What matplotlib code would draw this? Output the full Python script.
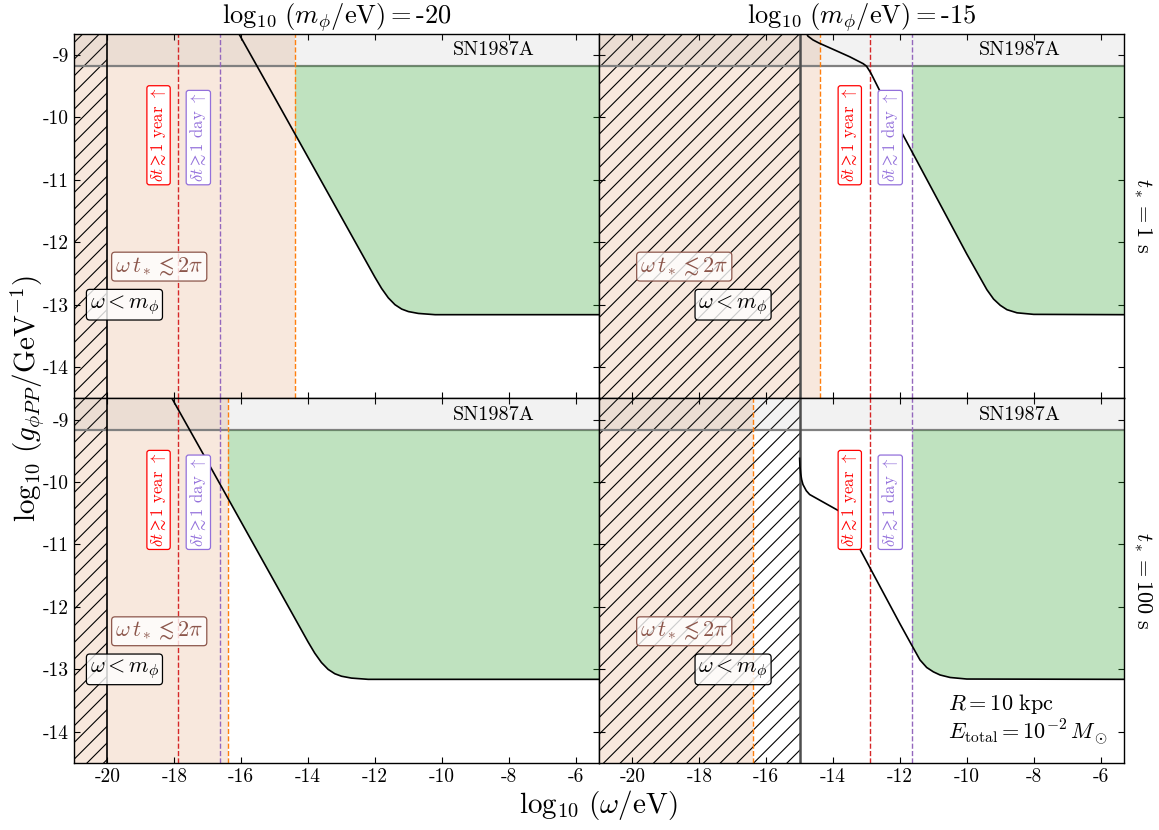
import matplotlib
matplotlib.use('Agg')
import matplotlib.pyplot as plt
from matplotlib.patches import Rectangle

plt.rcParams.update({
    'font.family': 'serif',
    'font.serif': ['cmr10', 'DejaVu Serif'],
    'mathtext.fontset': 'cm',
    'axes.unicode_minus': False,
    'hatch.linewidth': 0.8,
})

# ---------------- data ----------------
XLIM = (-21.0, -5.3)
YLIM = (-14.5, -8.66)
log_m = [-20, -15]                 # columns: log10(m_phi/eV)
t_star_labels = [r'$t_* = 1\ \mathrm{s}$', r'$t_* = 100\ \mathrm{s}$']  # rows
sn1987a = -9.17
orange_x = [-14.39, -16.39]        # omega t* = 2 pi  (per row)
red_x = [-17.88, -12.90]           # delta t >~ 1 year (per column)
purple_x = [-16.62, -11.63]        # delta t >~ 1 day  (per column)
green_start = [[-14.39, -11.63], [-16.39, -11.63]]

# black curves (row, column)
curve_1s_m20_x = [-16.30, -15.00, -14.00, -13.00, -12.00, -11.80, -11.60, -11.40, -11.20, -11.00, -10.70, -10.20, -5.30]
curve_1s_m20_y = [-8.44, -9.68, -10.64, -11.60, -12.56, -12.74, -12.89, -13.00, -13.07, -13.11, -13.14, -13.16, -13.16]
curve_100s_m20_x = [-18.30, -17.00, -16.00, -15.00, -14.00, -13.80, -13.60, -13.40, -13.20, -13.00, -12.70, -12.20, -5.30]
curve_100s_m20_y = [-8.44, -9.68, -10.64, -11.60, -12.56, -12.74, -12.89, -13.00, -13.07, -13.11, -13.14, -13.16, -13.16]
curve_1s_m15_x = [-14.88, -14.83, -14.75, -14.60, -14.42, -14.00, -13.50, -13.10, -13.00, -12.87, -12.56, -12.00,
                  -11.00, -10.00, -9.60, -9.40, -9.20, -9.00, -8.80, -8.50, -8.00, -5.30]
curve_1s_m15_y = [-8.40, -8.62, -8.70, -8.76, -8.81, -8.91, -9.03, -9.14, -9.18, -9.29, -9.62, -10.19,
                  -11.19, -12.19, -12.57, -12.76, -12.91, -13.01, -13.08, -13.13, -13.155, -13.16]
curve_100s_m15_x = [-15.00, -14.99, -14.97, -14.94, -14.90, -14.80, -14.70, -14.40, -14.00, -13.80, -13.60, -13.20,
                    -12.50, -12.00, -11.64, -11.40, -11.20, -11.00, -10.80, -10.50, -10.00, -5.30]
curve_100s_m15_y = [-9.62, -9.75, -9.86, -9.96, -10.04, -10.14, -10.20, -10.29, -10.41, -10.47, -10.67, -11.07,
                    -11.77, -12.27, -12.62, -12.85, -12.97, -13.04, -13.09, -13.13, -13.155, -13.16]
curves = [[(curve_1s_m20_x, curve_1s_m20_y), (curve_1s_m15_x, curve_1s_m15_y)],
          [(curve_100s_m20_x, curve_100s_m20_y), (curve_100s_m15_x, curve_100s_m15_y)]]

# label positions
red_label_x = [-18.47, -13.50]
purple_label_x = [-17.28, -12.29]
omega_m_label_x = [-19.49, -16.99]
xticks = [-20, -18, -16, -14, -12, -10, -8, -6]
yticks = [-14, -13, -12, -11, -10, -9]

# ---------------- figure ----------------
fig, axes = plt.subplots(2, 2, figsize=(11.59, 8.30), dpi=100, sharex=True, sharey=True)
fig.subplots_adjust(left=0.0638, right=0.9698, top=0.9594, bottom=0.0807, wspace=0, hspace=0)

for r in range(2):
    for c in range(2):
        ax = axes[r, c]
        ax.set_xlim(XLIM)
        ax.set_ylim(YLIM)
        # omega t* < 2 pi region
        ax.axvspan(XLIM[0], orange_x[r], facecolor='chocolate', alpha=0.15, lw=0, zorder=0)
        ax.axvline(orange_x[r], color='tab:orange', ls='--', lw=1, zorder=3)
        # omega < m region (hatched)
        edge = 'k' if c == 0 else '0.3'
        ax.axvspan(XLIM[0], log_m[c], facecolor='none', edgecolor='k', hatch='//', lw=0, zorder=1)
        ax.axvline(log_m[c], color=edge, lw=1.2 if c == 0 else 1.8, zorder=3)
        # SN1987A band
        ax.axhspan(sn1987a, YLIM[1], facecolor='gray', alpha=0.1, lw=0, zorder=2)
        ax.axhline(sn1987a, color='gray', lw=1.6, zorder=2)
        ax.text(-8.43, -8.92, 'SN1987A', ha='center', va='center', fontsize=14.5, zorder=6)
        # green region
        cx, cy = curves[r][c]
        poly = ax.fill_between(cx, cy, sn1987a, facecolor='tab:green', alpha=0.3, lw=0, zorder=2)
        clip = Rectangle((green_start[r][c], YLIM[0]), XLIM[1] - green_start[r][c], YLIM[1] - YLIM[0],
                         transform=ax.transData)
        poly.set_clip_path(clip)
        ax.plot(cx, cy, color='k', lw=1.2, zorder=4)
        # delta t lines
        ax.axvline(red_x[c], color='tab:red', ls='--', lw=1, zorder=3)
        ax.axvline(purple_x[c], color='tab:purple', ls='--', lw=1, zorder=3)
        ax.text(red_label_x[c], -11.04, r'$\delta t \gtrsim 1$ year $\uparrow$', rotation=90,
                color='red', ha='center', va='bottom', fontsize=12, zorder=6,
                bbox=dict(boxstyle='round,pad=0.15', fc='white', ec='red', lw=0.9))
        ax.text(purple_label_x[c], -11.04, r'$\delta t \gtrsim 1$ day $\uparrow$', rotation=90,
                color='mediumpurple', ha='center', va='bottom', fontsize=12, zorder=6,
                bbox=dict(boxstyle='round,pad=0.15', fc='white', ec='mediumpurple', lw=0.9))
        # region labels
        ax.text(-18.45, -12.39, r'$\omega\, t_* \lesssim 2\pi$', color='tab:brown', ha='center', va='center',
                fontsize=16, zorder=6,
                bbox=dict(boxstyle='round,pad=0.15', fc=(1, 1, 1, 0.8), ec='tab:brown', lw=0.9))
        ax.text(omega_m_label_x[c], -13.0, r'$\omega < m_\phi$', color='k', ha='center', va='center',
                fontsize=16, zorder=6,
                bbox=dict(boxstyle='round,pad=0.15', fc=(1, 1, 1, 0.8), ec='k', lw=0.9))

        ax.set_xticks(xticks)
        ax.set_yticks(yticks)
        ax.tick_params(direction='in', top=True, right=True, labelsize=14, length=4)
        for s in ax.spines.values():
            s.set_linewidth(1.0)
            s.set_zorder(7)

for c in range(2):
    axes[0, c].set_title(r'$\log_{10}\,(m_\phi/\mathrm{eV}) =$' + str(log_m[c]), fontsize=19, pad=4)
for r in range(2):
    axes[r, 1].text(1.015, 0.5, t_star_labels[r], rotation=-90, transform=axes[r, 1].transAxes,
                    ha='left', va='center', fontsize=16)

axes[1, 1].text(-10.55, -13.55, r'$R = 10\ \mathrm{kpc}$', fontsize=16, va='center', ha='left', zorder=6)
axes[1, 1].text(-10.55, -14.0, r'$E_\mathrm{total} = 10^{-2}\,M_\odot$', fontsize=16, va='center', ha='left', zorder=6)

fig.text(0.516, 0.03, r'$\log_{10}\,(\omega/\mathrm{eV})$', ha='center', va='center', fontsize=21)
fig.text(0.023, 0.52, r'$\log_{10}\,(g_{\phi PP}/\mathrm{GeV}^{-1})$', ha='center', va='center',
         rotation=90, fontsize=21)

fig.savefig('out.png', dpi=100)
